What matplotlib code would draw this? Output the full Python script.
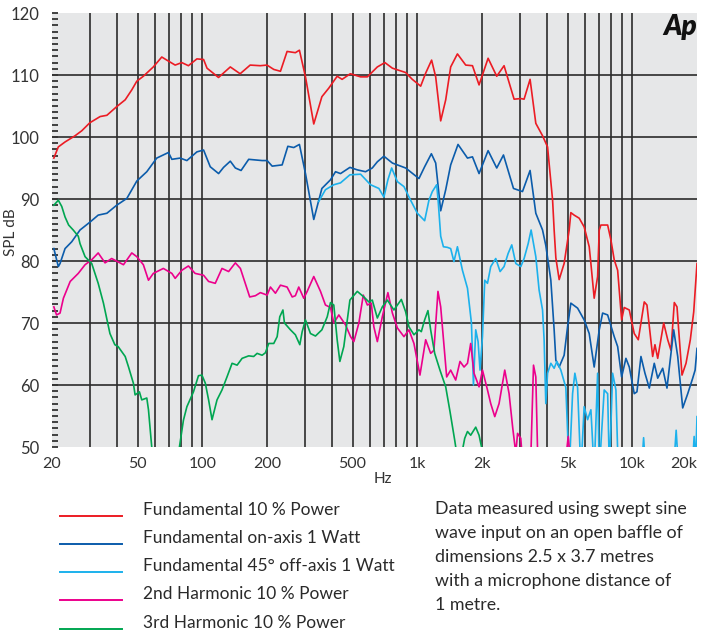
import matplotlib
matplotlib.use("Agg")
import matplotlib.pyplot as plt
from matplotlib.lines import Line2D

plt.rcParams['font.family'] = ['Lato', 'DejaVu Sans']

# ---------------- data ----------------
red_f = [20.4, 21.4, 23.0, 25.6, 27.5, 30.0, 33.5, 36.0, 40.0, 43.8, 47.0, 49.6, 53.2, 59.2, 64.8, 68.4, 74.8, 80.3, 86.2, 94.4,
         101.4, 105.2, 119, 135, 150, 167, 186, 200, 215, 231, 248, 271, 283, 302, 330, 360, 388, 424, 447, 488,
         545, 586, 652, 707, 766, 883, 948, 1037, 1094, 1166, 1218, 1285, 1356, 1430, 1537, 1680, 1806, 1938, 2135, 2342,
         2533, 2820, 3030, 3139, 3347, 3559, 3825, 4036, 4260, 4331, 4411, 4570, 4820, 5087, 5180, 5366, 5665, 5973, 6305, 6420,
         6650, 6899, 7020, 7146, 7681, 7954, 8241, 8550, 8922, 9170, 9684, 10212, 10665, 11368, 11702, 12440, 12750, 13130, 14000, 14616,
         15137, 15683, 16143, 17033, 17780, 18617, 19310, 20000]
red_db = [96.6, 98.4, 99.2, 100.2, 101.0, 102.3, 103.3, 103.5, 104.9, 106.0, 107.6, 109.0, 109.8, 111.3, 112.9, 112.4, 111.6, 112.0, 111.5, 112.6,
          112.5, 111.1, 109.6, 111.3, 110.2, 111.6, 111.5, 111.6, 110.9, 110.6, 113.8, 113.6, 114.0, 109.7, 102.1, 106.5, 107.9, 109.8, 109.3, 110.2,
          109.7, 109.7, 111.3, 112.0, 111.1, 110.4, 109.3, 108.2, 110.3, 112.4, 109.7, 102.6, 106.0, 111.3, 113.4, 111.6, 111.5, 108.4, 112.7, 109.8,
          111.5, 106.1, 106.2, 106.1, 109.3, 102.2, 100.2, 98.4, 89.8, 85.0, 80.5, 77.0, 79.6, 85.0, 87.8, 87.4, 86.9, 85.5, 82.3, 79.6,
          74.0, 77.5, 85.0, 85.8, 85.8, 83.4, 80.2, 78.5, 70.5, 72.5, 72.1, 68.3, 67.3, 73.4, 72.9, 64.6, 66.5, 64.3, 70.0, 67.3,
          65.6, 73.3, 72.6, 61.6, 63.5, 67.3, 71.8, 79.6]

blue_f = [20.4, 21.4, 21.8, 23.0, 24.7, 27.0, 30.1, 32.8, 36.0, 40.0, 44.6, 49.6, 55.2, 61.4, 69.6, 72.2, 78.9, 84.8, 94.4, 101.4,
          108.9, 119.1, 125.6, 135, 142.5, 151.5, 164.4, 189.8, 200.3, 211.4, 235.2, 250, 266.4, 283, 302, 330, 360, 394.8, 416.6, 439.5,
          486, 526, 574.8, 617.6, 652, 699.5, 766, 883, 1018, 1082, 1163, 1218, 1285, 1356, 1430, 1547, 1712, 1806, 1938, 2135,
          2342, 2517, 2802, 3086, 3347, 3559, 3825, 3961, 4180, 4331, 4411, 4570, 4820, 5001, 5180, 5567, 5973, 6305, 6650, 7020,
          7279, 7681, 8241, 8550, 8922, 9343, 9684, 10212, 10512, 10973, 11454, 12000, 12655, 13130, 13850, 14500, 15583, 16270, 17160, 18110,
          19100, 19600, 20000]
blue_db = [82.0, 79.1, 79.6, 82.0, 83.1, 85.0, 86.3, 87.4, 87.7, 89.0, 90.1, 92.9, 94.4, 96.6, 97.5, 96.4, 96.6, 96.2, 97.6, 97.9,
           95.2, 94.1, 95.1, 96.1, 95.0, 94.6, 96.4, 96.2, 96.2, 95.3, 95.5, 98.5, 98.3, 98.8, 94.1, 86.7, 91.7, 93.1, 94.4, 94.1,
           95.1, 94.7, 94.4, 95.0, 96.0, 96.9, 95.8, 95.0, 93.3, 95.2, 97.3, 95.8, 88.1, 91.5, 95.5, 98.8, 96.6, 96.8, 94.1, 97.8,
           95.0, 97.1, 91.7, 91.2, 94.6, 87.7, 85.0, 82.5, 76.9, 68.9, 64.0, 62.9, 64.8, 69.4, 73.2, 72.4, 70.5, 68.3, 62.9, 68.9,
           71.6, 71.3, 67.8, 66.2, 61.3, 64.3, 62.9, 58.6, 58.9, 64.6, 61.9, 59.5, 63.5, 61.1, 62.7, 59.5, 68.9, 64.6, 56.3, 58.6,
           61.1, 62.4, 65.9]

lb_f = [348, 374, 409, 439.5, 486, 545, 606, 663, 699.5, 730, 760, 808, 867, 931, 1001, 1082, 1133, 1175, 1231, 1250,
        1285, 1323, 1381, 1430, 1481, 1537, 1622, 1712, 1786, 1825, 1870, 1918, 1958, 2010, 2060, 2121, 2196, 2317, 2428, 2533,
        2645, 2751, 2872, 3030, 3139, 3279, 3384, 3559, 3687, 3825, 3890, 3961, 4036, 4180, 4331, 4458, 4653, 4909, 5087, 5276,
        5407, 5567, 5766, 5973, 6197, 6420, 6650, 6899, 7020, 7403, 7681, 7830, 8100, 8393, 8620, 10973, 11290, 11600, 15466, 16000,
        16500, 18900, 19400, 19700, 20000]
lb_db = [89.6, 91.5, 92.3, 92.6, 93.9, 94.0, 92.3, 91.7, 90.3, 93.1, 95.0, 92.8, 92.0, 89.8, 87.7, 86.5, 89.8, 91.2, 92.3, 89.8,
         84.0, 82.3, 82.2, 82.0, 79.9, 82.3, 78.5, 75.6, 70.0, 60.0, 68.9, 67.0, 62.4, 67.8, 76.9, 76.4, 79.1, 80.4, 78.3, 79.1,
         81.2, 82.6, 79.6, 79.1, 80.4, 82.8, 85.0, 80.7, 75.3, 72.1, 67.3, 57.0, 61.9, 63.5, 62.7, 63.8, 62.4, 59.6, 46.0, 58.6,
         61.9, 59.6, 46.0, 56.5, 54.4, 56.0, 46.0, 61.9, 46.0, 59.2, 58.6, 46.0, 61.9, 59.2, 45.0, 45.0, 51.5, 45.0, 45.0, 52.7,
         45.0, 45.0, 51.7, 47.0, 54.9]

mg_f = [20.4, 21.0, 21.8, 22.6, 24.3, 26.5, 28.5, 30.6, 32.8, 35.3, 37.9, 43.0, 47.0, 49.6, 53.2, 56.2, 59.2, 65.9, 72.2, 74.8,
        80.3, 86.2, 92.6, 101.4, 107, 114.9, 123.5, 132.6, 142.5, 150.4, 166.2, 176.6, 186.3, 200.3, 207.5, 218.9, 231, 248, 262, 271,
        281, 296.5, 307.6, 330, 354.7, 374, 394.8, 409, 431.6, 463.7, 489.4, 507, 535, 560.8, 586, 611, 628, 652, 687.7, 730,
        766, 808, 867, 914.6, 965, 1029, 1094, 1154, 1195, 1248, 1285, 1370, 1430, 1509, 1580, 1650, 1712, 1772, 1836, 1938,
        2010, 2121, 2196, 2293, 2401, 2552, 2673, 2781, 2872, 2927, 3030, 3096, 3300, 3384, 3472, 3559, 3640, 4800, 5035, 5250,
        20000]
mg_db = [72.6, 71.3, 71.6, 74.0, 76.7, 78.0, 79.4, 80.2, 81.3, 79.7, 80.4, 79.4, 81.3, 80.7, 79.4, 76.9, 78.0, 78.8, 78.0, 77.2,
         78.5, 79.2, 78.0, 77.7, 76.7, 76.4, 78.8, 78.3, 79.7, 78.8, 74.2, 74.4, 74.9, 74.5, 75.8, 74.8, 76.1, 75.8, 74.2, 74.4,
         75.8, 74.0, 75.1, 77.5, 75.1, 72.9, 72.5, 70.0, 71.3, 69.7, 67.8, 67.0, 70.0, 74.5, 72.9, 73.2, 69.4, 67.0, 71.0, 74.9,
         71.6, 69.2, 67.8, 68.9, 66.7, 61.6, 67.3, 65.1, 65.6, 75.1, 72.6, 61.3, 62.4, 60.8, 63.8, 62.9, 63.5, 66.7, 61.9, 59.7,
         62.4, 59.2, 57.0, 54.9, 57.0, 62.4, 58.6, 53.0, 49.0, 52.2, 51.4, 47.0, 47.0, 50.0, 63.2, 61.3, 47.0, 45.0, 51.7, 45.0,
         40.0]

gr_f = [20.4, 21.4, 22.2, 23.0, 23.9, 25.1, 26.5, 27.0, 28.5, 30.6, 32.8, 34.7, 37.2, 39.2, 40.6, 43.8, 45.4, 47.8, 48.7, 51.0,
        52.3, 55.2, 56.2, 58.2, 60, 74.8, 78.3, 81.7, 84.8, 91, 96, 99.6, 103.3, 107, 111, 117.1, 123.5, 130.3, 137.6, 145.2,
        153.2, 164.4, 173.4, 179.9, 189.8, 196.6, 203.7, 215, 223, 229.3, 237.2, 241.1, 257.1, 271, 284.2, 291.5, 302, 318.6, 336.1, 360,
        381.2, 394.8, 409, 424, 436.4, 455.3, 486, 526, 564.4, 595.6, 617.6, 652, 687.7, 725.7, 778.7, 843, 883, 914.6, 965, 1018,
        1044, 1082, 1121, 1154, 1205, 1275, 1356, 1420, 1493, 1540, 1622, 1662, 1712, 1772, 1870, 1938, 1990, 2040, 2200]
gr_db = [89.0, 89.8, 88.8, 87.1, 85.8, 85.0, 84.0, 82.8, 80.7, 79.6, 76.4, 73.2, 68.3, 66.5, 66.2, 64.6, 62.9, 60.3, 58.4, 58.9,
         57.6, 57.9, 56.0, 50.0, 45.0, 43.0, 50.0, 54.3, 56.5, 58.9, 61.5, 61.6, 60.3, 57.6, 54.4, 57.6, 59.2, 61.3, 63.5, 63.2,
         64.3, 64.7, 64.6, 65.1, 64.8, 65.2, 66.7, 66.7, 67.8, 71.0, 72.1, 70.0, 68.9, 68.1, 66.5, 68.6, 70.5, 68.3, 67.9, 68.9,
         71.0, 73.3, 72.9, 67.3, 63.8, 66.2, 73.7, 75.1, 74.2, 73.4, 73.7, 70.8, 72.6, 73.7, 72.1, 73.8, 71.8, 69.4, 68.1, 68.9,
         68.6, 70.5, 72.0, 68.9, 65.1, 62.4, 59.7, 55.7, 51.1, 48.0, 49.5, 51.4, 52.5, 51.9, 53.2, 51.9, 50.0, 46.0, 42.0]

series_labels = ["Fundamental 10 % Power", "Fundamental on-axis 1 Watt", "Fundamental 45° off-axis 1 Watt",
                 "2nd Harmonic 10 % Power", "3rd Harmonic 10 % Power"]
series_colors = ["#ec1c24", "#0b5cab", "#1cb1ec", "#ec008c", "#00a651"]

xtick_vals = [20, 50, 100, 200, 500, 1000, 2000, 5000, 10000, 20000]
xtick_labels = ["20", "50", "100", "200", "500", "1k", "2k", "5k", "10k", "20k"]
ytick_vals = [50, 60, 70, 80, 90, 100, 110, 120]
vgrid = [30, 40, 50, 60, 70, 80, 90, 100, 200, 300, 400, 500, 600, 700, 800, 900,
         1000, 2000, 3000, 4000, 5000, 6000, 7000, 8000, 9000, 10000]
hgrid = [60, 70, 80, 90, 100, 110]

note_lines = ["Data measured using swept sine", "wave input on an open baffle of",
              "dimensions 2.5 x 3.7 metres", "with a microphone distance of", "1 metre."]

# ---------------- figure ----------------
W, H = 701, 635
fig = plt.figure(figsize=(W / 100, H / 100), dpi=100)
ax = fig.add_axes([52 / W, 1 - 447 / H, 645 / W, 434 / H])
ax.set_facecolor("#e6e7e8")
ax.set_xscale("log")
ax.set_xlim(20, 20000)
ax.set_ylim(50, 120)
for s in ax.spines.values():
    s.set_visible(False)

gc = "#2b2b2b"
ax.vlines(vgrid, 50, 120, colors=gc, linewidth=1.2, zorder=1)
ax.hlines(hgrid, 20, 20000, colors=gc, linewidth=1.2, zorder=1)

data = [(red_f, red_db), (blue_f, blue_db), (lb_f, lb_db), (mg_f, mg_db), (gr_f, gr_db)]
order = [2, 1, 4, 3, 0]
for i in order:
    f, d = data[i]
    ax.plot(f, d, color=series_colors[i], linewidth=1.2, zorder=3 + i * 0.1, solid_joinstyle="round")

ax.set_xticks(xtick_vals)
ax.set_xticklabels(xtick_labels)
ax.xaxis.set_minor_locator(matplotlib.ticker.NullLocator())
ax.tick_params(axis="x", which="both", length=0, pad=7, labelsize=11.5, labelcolor="#333333")
xl = ax.get_xticklabels()
xl[-1].set_horizontalalignment("right")
ax.set_yticks(ytick_vals)
ax.set_yticks(range(50, 121), minor=True)
ax.tick_params(axis="y", which="major", direction="in", length=4, width=1.3, color="#333333",
               pad=9, labelsize=12, labelcolor="#333333")
ax.tick_params(axis="y", which="minor", direction="in", length=4, width=1.3, color="#333333")

fig.text(383 / W, 1 - 479 / H, "Hz", ha="center", va="center", fontsize=11, color="#333333")
fig.text(11 / W, 1 - 232 / H, "SPL dB", ha="center", va="center", rotation=90, fontsize=11, color="#333333")

# Ap logo
fig.text(680 / W, 1 - 27 / H, "Ap", ha="center", va="center", fontsize=20, fontweight="heavy",
         fontstyle="italic", color="#111111")

# legend
leg_y = [516, 544, 572, 600, 629]
for i, lab in enumerate(series_labels):
    y = 1 - leg_y[i] / H
    fig.add_artist(Line2D([60 / W, 122 / W], [y, y], color=series_colors[i], linewidth=1.4,
                          transform=fig.transFigure))
    fig.text(143 / W, 1 - (leg_y[i] - 6) / H, lab, ha="left", va="center", fontsize=12.5, color="#2a2a2a")

note_y = [509, 533, 557, 581, 605]
for t, yy in zip(note_lines, note_y):
    fig.text(435 / W, 1 - yy / H, t, ha="left", va="center", fontsize=12.8, color="#2a2a2a")

fig.savefig("out.png", dpi=100)
